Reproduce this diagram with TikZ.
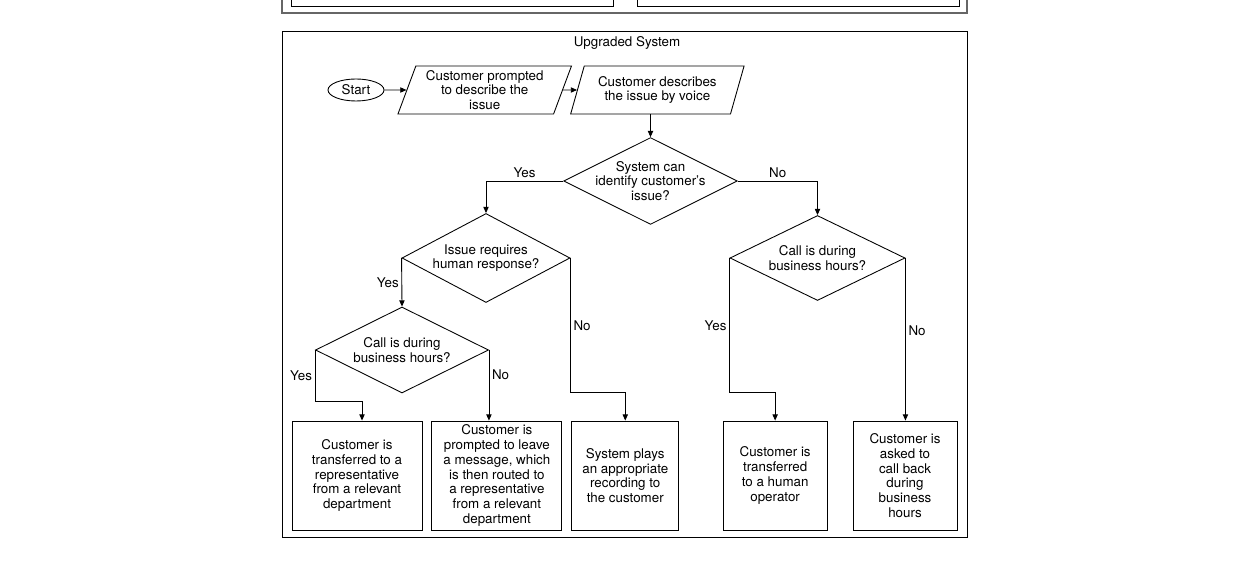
\documentclass[tikz,border=0pt]{standalone}
\usepackage{fontspec}
\setmainfont{TeX Gyre Heros}
\usetikzlibrary{shapes.geometric, arrows.meta, positioning, calc}

\begin{document}
\begin{tikzpicture}[
        font=\fontsize{7.6}{8.4}\selectfont,
        line width=0.5pt,
        term/.style={ellipse, draw, minimum width=1.12cm, minimum height=0.44cm, inner sep=0pt},
        io/.style={trapezium, trapezium stretches=true, trapezium left angle=70, trapezium right angle=110, draw, align=center, minimum width=3.48cm, minimum height=0.96cm, inner sep=1pt},
        decision/.style={diamond, draw, align=center, aspect=2, inner sep=-1.5pt, minimum width=3.46cm, minimum height=1.72cm},
        outcome/.style={rectangle, draw, align=center, inner ysep=1pt, minimum height=2.18cm},
        flow/.style={-{Triangle[length=3.5pt, width=3pt]}},
        lbl/.style={inner sep=1.5pt}
    ]
        \useasboundingbox (0,0) rectangle (25,-11.64);

        % bottom of the previous panel
        \draw [black!60, line width=0.8pt] (5.64,0) |- (19.34,-0.26) -- (19.34,0);
        \draw (5.82,0) |- (12.26,-0.12) -- (12.26,0);
        \draw (12.74,0) |- (19.18,-0.12) -- (19.18,0);

        % upgraded system panel
        \draw (5.64,-0.62) rectangle (19.34,-10.74);
        \node (title) at (12.54,-0.86) {Upgraded System};

        \node (start) [term] at (7.12,-1.8) {Start};
        \node (prompt) [io, right=0.44cm of start] {Customer prompted\\to describe the\\issue};
        \node (voice) [io, right=0.28cm of prompt] {Customer describes\\the issue by voice};

        \node (identify) [decision] at (13.01,-3.62) {System can\\identify customer’s\\issue?};
        \node (human) [decision, minimum width=3.36cm, minimum height=1.78cm] at (9.72,-5.16) {Issue requires\\human response?};
        \node (hoursR) [decision, minimum width=3.5cm, minimum height=1.7cm] at (16.35,-5.16) {Call is during\\business hours?};
        \node (hoursL) [decision] at (8.04,-7.0) {Call is during\\business hours?};

        \node (transfer) [outcome, minimum width=2.6cm] at (7.14,-9.51) {Customer is\\transferred to a\\representative\\from a relevant\\department};
        \node (message) [outcome, minimum width=2.6cm, right=0.18cm of transfer] {Customer is\\prompted to leave\\a message, which\\is then routed to\\a representative\\from a relevant\\department};
        \node (record) [outcome, minimum width=2.14cm, right=0.18cm of message] {System plays\\an appropriate\\recording to\\the customer};
        \node (operator) [outcome, minimum width=2.08cm, right=0.87cm of record] {Customer is\\transferred\\to a human\\operator};
        \node (callback) [outcome, minimum width=2.08cm, right=0.5cm of operator] {Customer is\\asked to\\call back\\during\\business\\hours};

        \draw [flow] (start) -- (prompt);
        \draw [flow] (prompt) -- (voice);
        \draw [flow] (identify.north |- voice.south) -- (identify.north);

        \draw [flow] (identify.west) -| node [lbl, pos=0.25, above] {Yes} (human.north);
        \draw [flow] (identify.east) -| node [lbl, pos=0.25, above] {No} (hoursR.north);

        \draw [flow] (human.west) -- node [lbl, left] {Yes} (hoursL.north);
        \draw [flow] (human.east) |- node [lbl, pos=0.25, right] {No} ([yshift=0.56cm]record.north) -- (record.north);

        \draw [flow] (hoursL.west) |- node [lbl, pos=0.25, left] {Yes} ([xshift=0.1cm, yshift=0.38cm]transfer.north) -- ([xshift=0.1cm]transfer.north);
        \draw [flow] (hoursL.east) -- node [lbl, pos=0.35, right] {No} (hoursL.east |- message.north);

        \draw [flow] (hoursR.west) |- node [lbl, pos=0.25, left] {Yes} ([yshift=0.56cm]operator.north) -- (operator.north);
        \draw [flow] (hoursR.east) -- node [lbl, pos=0.45, right] {No} (hoursR.east |- callback.north);
    \end{tikzpicture}
\end{document}
